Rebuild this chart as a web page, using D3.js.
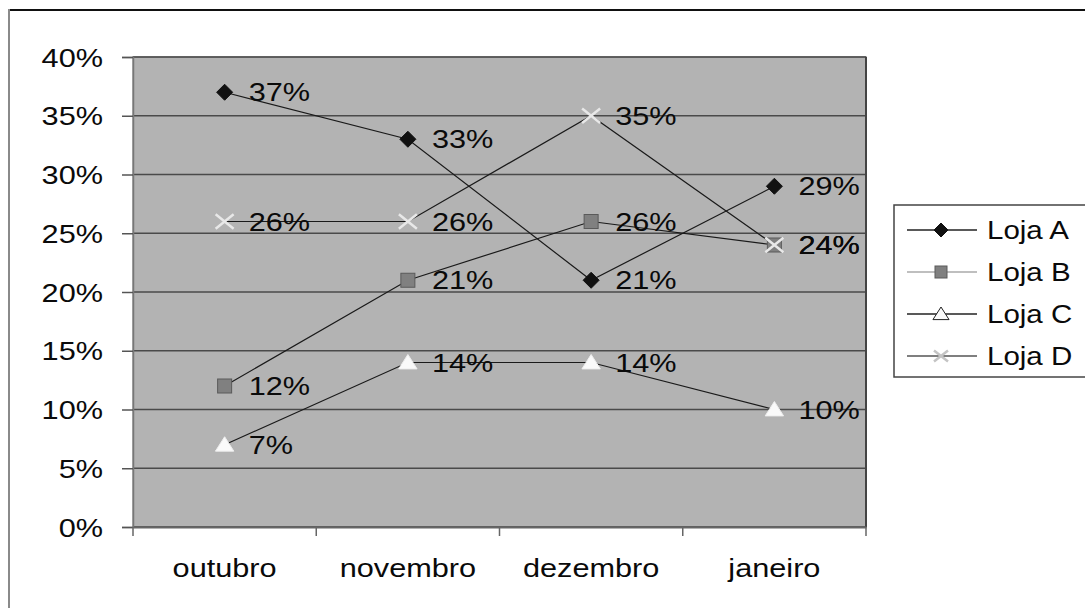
<!doctype html>
<html>
<head>
<meta charset="utf-8"/>
<title>Lojas</title>
<script src="https://d3js.org/d3.v7.min.js"></script>
<style>
body{margin:0;background:#fff;}
text{font-family:"Liberation Sans",Arial,sans-serif;fill:#0a0a0a;}
</style>
</head>
<body>
<script type="text/javascript">
// dados
var meses = ["outubro", "novembro", "dezembro", "janeiro"];
var lojaA = [37, 33, 21, 29];
var lojaB = [12, 21, 26, 24];
var lojaC = [7, 14, 14, 10];
var lojaD = [26, 26, 35, 24];
var nomes = ["Loja A", "Loja B", "Loja C", "Loja D"];
var yTicks = [0, 5, 10, 15, 20, 25, 30, 35, 40];

var series = [
  {nome: nomes[0], valores: lojaA, marca: "diamante"},
  {nome: nomes[1], valores: lojaB, marca: "quadrado"},
  {nome: nomes[2], valores: lojaC, marca: "triangulo"},
  {nome: nomes[3], valores: lojaD, marca: "xis"}
];

var svg = d3.select("body").append("svg")
  .attr("width", 1085).attr("height", 608);

var esq = 133, dir = 866, topo = 57, base = 527;
var sx = 1.18; // texto esticado na horizontal

var x = d3.scaleBand().domain(meses).range([esq, dir]).padding(0);
var y = d3.scaleLinear().domain([0, 40]).range([base, topo]);

// moldura do grafico
svg.append("line").attr("x1", 9).attr("x2", 1085).attr("y1", 10).attr("y2", 10)
  .attr("stroke", "#111").attr("stroke-width", 2);
svg.append("line").attr("x1", 9).attr("x2", 9).attr("y1", 9).attr("y2", 608)
  .attr("stroke", "#8a8a8a").attr("stroke-width", 2);

// area do grafico
svg.append("rect").attr("x", esq).attr("y", topo)
  .attr("width", dir - esq).attr("height", base - topo)
  .attr("fill", "#b3b3b3").attr("stroke", "#8c8c8c").attr("stroke-width", 1.5);

// linhas de grade
svg.selectAll(".grade").data(yTicks).enter().append("line")
  .attr("x1", esq).attr("x2", dir)
  .attr("y1", function(d){return y(d)}).attr("y2", function(d){return y(d)})
  .attr("stroke", "#4a4a4a").attr("stroke-width", 1.5);
svg.append("line").attr("x1", dir).attr("x2", dir).attr("y1", topo).attr("y2", base)
  .attr("stroke", "#444").attr("stroke-width", 2);

// eixo y
var eixoY = svg.append("g").attr("transform", "translate(" + esq + ",0)")
  .call(d3.axisLeft(y).tickValues(yTicks).tickSize(11).tickFormat(function(d){return d + "%"}));
eixoY.select(".domain").attr("stroke", "#777").attr("stroke-width", 1.5);
eixoY.selectAll(".tick line").attr("stroke", "#555").attr("stroke-width", 1.5);
eixoY.selectAll(".tick text")
  .attr("x", null).attr("dy", null)
  .attr("transform", "translate(-30,9) scale(" + sx + ",1)")
  .style("font-size", "26px").style("font-family", "Liberation Sans, Arial, sans-serif").attr("fill", "#0a0a0a");

// eixo x
var eixoX = svg.append("g").attr("transform", "translate(0," + base + ")")
  .call(d3.axisBottom(x).tickSize(0));
eixoX.select(".domain").attr("stroke", "#666").attr("stroke-width", 2);
eixoX.selectAll(".tick text")
  .attr("y", null).attr("dy", null)
  .attr("transform", "translate(0,50) scale(" + sx + ",1)")
  .style("font-size", "26px").style("font-family", "Liberation Sans, Arial, sans-serif").attr("fill", "#0a0a0a");
var divisas = meses.map(function(m){return x(m)}).concat([dir]);
svg.selectAll(".divisa").data(divisas).enter().append("line")
  .attr("x1", function(d){return d}).attr("x2", function(d){return d})
  .attr("y1", base).attr("y2", base + 9)
  .attr("stroke", "#666").attr("stroke-width", 1.5);

function cx(i){return x(meses[i]) + x.bandwidth() / 2}

function marcador(g, tipo, s, naLegenda){
  if (tipo == "diamante") {
    g.append("path").attr("d", "M0," + (-s) + "L" + s + ",0L0," + s + "L" + (-s) + ",0Z")
      .attr("fill", "#111").attr("stroke", "#111").attr("stroke-width", 1);
  } else if (tipo == "quadrado") {
    g.append("rect").attr("x", -s).attr("y", -s).attr("width", 2 * s).attr("height", 2 * s)
      .attr("fill", "#808080").attr("stroke", "#5a5a5a").attr("stroke-width", 1);
  } else if (tipo == "triangulo") {
    g.append("path").attr("d", "M0," + (-s) + "L" + (s * 1.15) + "," + (s * 0.8) + "L" + (-s * 1.15) + "," + (s * 0.8) + "Z")
      .attr("fill", "#fafafa").attr("stroke", naLegenda ? "#222" : "#eee").attr("stroke-width", 1);
  } else {
    g.append("path").attr("d", "M" + (-s) + "," + (-s * 0.8) + "L" + s + "," + (s * 0.8) + "M" + (-s) + "," + (s * 0.8) + "L" + s + "," + (-s * 0.8))
      .attr("stroke", naLegenda ? "#c4c4c4" : "#e8e8e8").attr("stroke-width", 2.5).attr("fill", "none");
  }
}

var linha = d3.line().x(function(d, i){return cx(i)}).y(function(d){return y(d)});

// linhas das series
series.forEach(function(s){
  svg.append("path").datum(s.valores).attr("d", linha)
    .attr("fill", "none").attr("stroke", "#1a1a1a").attr("stroke-width", 1.2);
});

// marcadores e rotulos
series.forEach(function(s){
  s.valores.forEach(function(v, i){
    var g = svg.append("g").attr("transform", "translate(" + cx(i) + "," + y(v) + ")");
    marcador(g, s.marca, s.marca == "quadrado" ? 7 : (s.marca == "xis" ? 9 : 8), false);
  });
});
series.forEach(function(s){
  s.valores.forEach(function(v, i){
    svg.append("text")
      .attr("transform", "translate(" + (cx(i) + 24) + "," + (y(v) + 9) + ") scale(" + sx + ",1)")
      .style("font-size", "26px")
      .text(v + "%");
  });
});

// legenda
var leg = svg.append("g");
leg.append("rect").attr("x", 894).attr("y", 205).attr("width", 200).attr("height", 172)
  .attr("fill", "#fff").attr("stroke", "#444").attr("stroke-width", 1.5);
var corLeg = ["#222", "#aaa", "#222", "#555"];
series.forEach(function(s, i){
  var ly = 230 + i * 42;
  leg.append("line").attr("x1", 907).attr("x2", 977).attr("y1", ly).attr("y2", ly)
    .attr("stroke", corLeg[i]).attr("stroke-width", 1.5);
  var g = leg.append("g").attr("transform", "translate(941," + ly + ")");
  marcador(g, s.marca, s.marca == "quadrado" ? 6 : 7, true);
  leg.append("text")
    .attr("transform", "translate(987," + (ly + 9) + ") scale(" + sx + ",1)")
    .style("font-size", "25px")
    .text(s.nome);
});
</script>
</body>
</html>
